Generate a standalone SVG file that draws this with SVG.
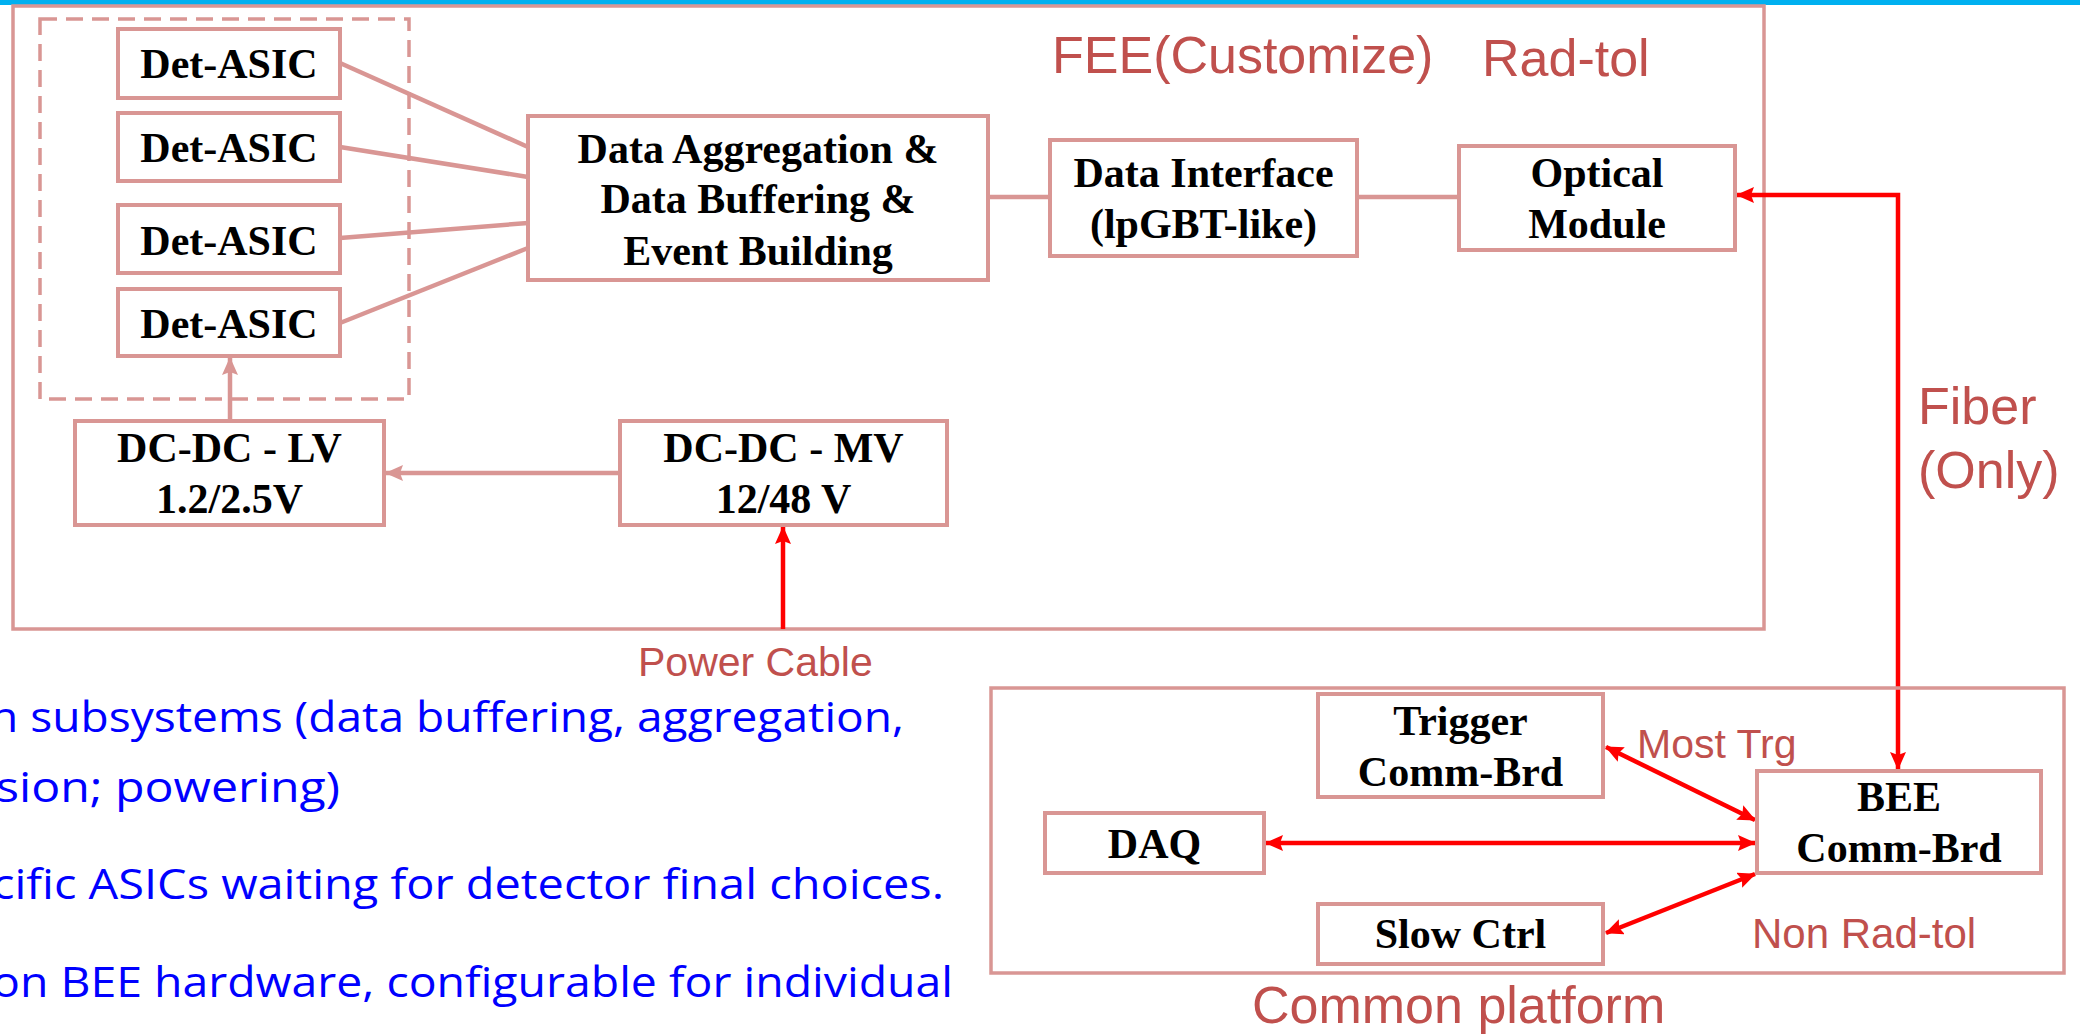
<svg xmlns="http://www.w3.org/2000/svg" width="2080" height="1035" viewBox="0 0 2080 1035">
  <style>
    .frame { fill: none; stroke: #D99694; stroke-width: 3.5; }
    .box { fill: #FFFFFF; stroke: #D99694; stroke-width: 4; }
    .dash { fill: none; stroke: #D99694; stroke-width: 3.5; stroke-dasharray: 17 9; }
    .link { fill: none; stroke: #D99694; stroke-width: 4.5; }
    .red { fill: none; stroke: #FF0000; stroke-width: 4.5; }
    .node { font-family: "Liberation Serif", "Times New Roman", serif; font-weight: bold; font-size: 42px; fill: #000000; text-anchor: middle; }
    .lbl { font-family: "Liberation Sans", Arial, sans-serif; fill: #C0504D; }
    .note { font-family: "Open Sans", "Noto Sans", sans-serif; font-size: 42px; fill: #0000FF; }
  </style>
  <defs>
    <marker id="headPink" viewBox="0 0 18 16" refX="17" refY="8" markerWidth="18" markerHeight="16" markerUnits="userSpaceOnUse" orient="auto-start-reverse">
      <path d="M0,0 L18,8 L0,16 L3,8 z" fill="#D99694"/>
    </marker>
    <marker id="headRed" viewBox="0 0 18 16" refX="17" refY="8" markerWidth="18" markerHeight="16" markerUnits="userSpaceOnUse" orient="auto-start-reverse">
      <path d="M0,0 L18,8 L0,16 L3,8 z" fill="#FF0000"/>
    </marker>
  </defs>

  <!-- page header rule -->
  <rect x="0" y="0" width="2080" height="5" fill="#00B0F0"/>

  <!-- front-end electronics enclosure -->
  <g id="fee-frame">
    <rect class="frame" x="13" y="6" width="1751" height="623"/>
    <text class="lbl" x="1052" y="73" font-size="52">FEE(Customize)</text>
    <text class="lbl" x="1482" y="76" font-size="52">Rad-tol</text>
  </g>

  <!-- ASIC group outline -->
  <g id="asic-group">
    <rect class="dash" x="40" y="19" width="369" height="380"/>
  </g>

  <!-- connectors -->
  <g id="connectors">
    <line class="link" x1="340" y1="63" x2="528" y2="147"/>
    <line class="link" x1="340" y1="147" x2="528" y2="177"/>
    <line class="link" x1="340" y1="238" x2="528" y2="223"/>
    <line class="link" x1="340" y1="323" x2="528" y2="248"/>
    <line class="link" x1="988" y1="197" x2="1050" y2="197"/>
    <line class="link" x1="1357" y1="197" x2="1459" y2="197"/>
    <line class="link" x1="230" y1="421" x2="230" y2="358" marker-end="url(#headPink)"/>
    <line class="link" x1="620" y1="473" x2="386" y2="473" marker-end="url(#headPink)"/>
    <line class="red" x1="783" y1="629" x2="783" y2="527" marker-end="url(#headRed)"/>
    <polyline class="red" points="1898,769 1898,195 1737,195" marker-start="url(#headRed)" marker-end="url(#headRed)"/>
    <line class="red" x1="1606" y1="747" x2="1755" y2="820" marker-start="url(#headRed)" marker-end="url(#headRed)"/>
    <line class="red" x1="1266" y1="843" x2="1755" y2="843" marker-start="url(#headRed)" marker-end="url(#headRed)"/>
    <line class="red" x1="1606" y1="933" x2="1755" y2="874" marker-start="url(#headRed)" marker-end="url(#headRed)"/>
  </g>

  <g id="det-asic-1">
    <rect class="box" x="118" y="29" width="222" height="69"/>
    <text class="node" x="229" y="78">Det-ASIC</text>
  </g>
  <g id="det-asic-2">
    <rect class="box" x="118" y="113" width="222" height="68"/>
    <text class="node" x="229" y="162">Det-ASIC</text>
  </g>
  <g id="det-asic-3">
    <rect class="box" x="118" y="205" width="222" height="68"/>
    <text class="node" x="229" y="255">Det-ASIC</text>
  </g>
  <g id="det-asic-4">
    <rect class="box" x="118" y="289" width="222" height="67"/>
    <text class="node" x="229" y="338">Det-ASIC</text>
  </g>

  <g id="data-aggregation">
    <rect class="box" x="528" y="116" width="460" height="164"/>
    <text class="node" x="758" y="163">Data Aggregation &amp;</text>
    <text class="node" x="758" y="213">Data Buffering &amp;</text>
    <text class="node" x="758" y="265">Event Building</text>
  </g>

  <g id="data-interface">
    <rect class="box" x="1050" y="140" width="307" height="116"/>
    <text class="node" x="1203.5" y="187">Data Interface</text>
    <text class="node" x="1203.5" y="238">(lpGBT-like)</text>
  </g>

  <g id="optical-module">
    <rect class="box" x="1459" y="146" width="276" height="104"/>
    <text class="node" x="1597" y="187">Optical</text>
    <text class="node" x="1597" y="238">Module</text>
  </g>

  <g id="dcdc-lv">
    <rect class="box" x="75" y="421" width="309" height="104"/>
    <text class="node" x="229.5" y="462">DC-DC - LV</text>
    <text class="node" x="229.5" y="513">1.2/2.5V</text>
  </g>

  <g id="dcdc-mv">
    <rect class="box" x="620" y="421" width="327" height="104"/>
    <text class="node" x="783.5" y="462">DC-DC - MV</text>
    <text class="node" x="783.5" y="513">12/48 V</text>
  </g>

  <g id="power-cable-label">
    <text class="lbl" x="638" y="676" font-size="41">Power Cable</text>
  </g>

  <g id="fiber-label">
    <text class="lbl" x="1918" y="424" font-size="52">Fiber</text>
    <text class="lbl" x="1918" y="488" font-size="52">(Only)</text>
  </g>

  <!-- common back-end platform -->
  <g id="common-platform">
    <rect class="frame" x="991" y="688" width="1073" height="285"/>
    <text class="lbl" x="1252" y="1023" font-size="52">Common platform</text>
    <text class="lbl" x="1637" y="758" font-size="41">Most Trg</text>
    <text class="lbl" x="1752" y="948" font-size="42">Non Rad-tol</text>
  </g>

  <g id="trigger-comm-brd">
    <rect class="box" x="1318" y="694" width="285" height="103"/>
    <text class="node" x="1460.5" y="735">Trigger</text>
    <text class="node" x="1460.5" y="786">Comm-Brd</text>
  </g>

  <g id="daq">
    <rect class="box" x="1045" y="813" width="219" height="60"/>
    <text class="node" x="1154.5" y="858">DAQ</text>
  </g>

  <g id="bee-comm-brd">
    <rect class="box" x="1757" y="771" width="284" height="102"/>
    <text class="node" x="1899" y="811">BEE</text>
    <text class="node" x="1899" y="862">Comm-Brd</text>
  </g>

  <g id="slow-ctrl">
    <rect class="box" x="1318" y="904" width="285" height="60"/>
    <text class="node" x="1460.5" y="948">Slow Ctrl</text>
  </g>

  <!-- notes running off the left edge -->
  <g id="notes">
    <text class="note" x="-10" y="732" textLength="914" lengthAdjust="spacingAndGlyphs">n subsystems (data buffering, aggregation,</text>
    <text class="note" x="-4" y="802" textLength="344" lengthAdjust="spacingAndGlyphs">sion; powering)</text>
    <text class="note" x="-8" y="899" textLength="952" lengthAdjust="spacingAndGlyphs">cific ASICs waiting for detector final choices.</text>
    <text class="note" x="-8" y="997" textLength="961" lengthAdjust="spacingAndGlyphs">on BEE hardware, configurable for individual</text>
  </g>
</svg>
